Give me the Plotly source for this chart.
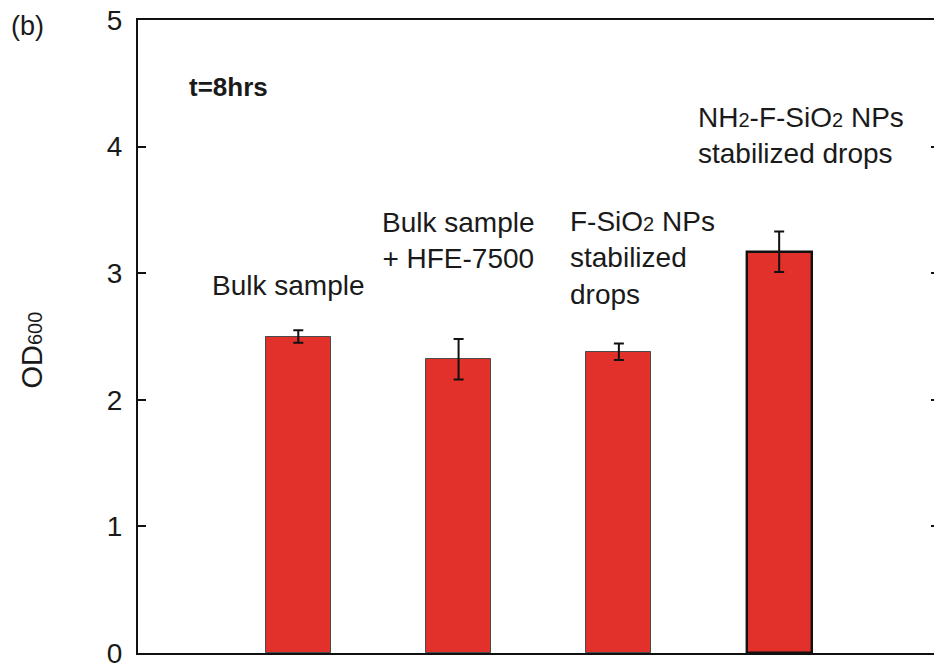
import plotly.graph_objects as go

# OD600 after 8 h of culture for each sample condition
positions = [1, 2, 3, 4]
od600 = [2.50, 2.32, 2.38, 3.17]
od600_err = [0.05, 0.16, 0.065, 0.16]
y_ticks = [0, 1, 2, 3, 4, 5]

FONT = "Liberation Sans, Arial, sans-serif"
TXT = "#1a1a1a"
SUB = '<span style="font-size:20px">{}</span>'

labels = [
    dict(text="Bulk sample", x=0.94, y=2.90, xanchor="center", align="center"),
    dict(text="Bulk sample<br>+ HFE-7500", x=2.0, y=3.26, xanchor="center", align="center"),
    dict(text="F-SiO" + SUB.format("2") + " NPs<br>stabilized<br>drops",
         x=2.68, y=3.12, xanchor="left", align="left"),
    dict(text="NH" + SUB.format("2") + "-F-SiO" + SUB.format("2") + " NPs<br>stabilized drops",
         x=3.48, y=4.09, xanchor="left", align="left"),
]

fig = go.Figure()
fig.add_trace(go.Bar(
    x=positions,
    y=od600,
    width=0.405,
    marker=dict(
        color="#e2302a",
        line=dict(color=["#4a4a4a", "#4a4a4a", "#4a4a4a", "#111111"],
                  width=[1, 1, 1, 2.4]),
    ),
    error_y=dict(type="data", array=od600_err, visible=True,
                 color="#111111", thickness=2, width=5),
    showlegend=False,
))
# carrier trace so the right-hand tick axis is drawn
fig.add_trace(go.Scatter(x=[None], y=[None], yaxis="y2",
                         showlegend=False, hoverinfo="skip"))

annotations = []
for lab in labels:
    annotations.append(dict(
        xref="x", yref="y", showarrow=False, yanchor="middle",
        font=dict(family=FONT, size=28, color=TXT), **lab,
    ))
annotations.append(dict(
    text="<b>t=8hrs</b>", xref="x", yref="y", x=0.566, y=4.47,
    xanchor="center", yanchor="middle", showarrow=False,
    font=dict(family=FONT, size=26, color=TXT),
))
annotations.append(dict(
    text="OD" + SUB.format("600"), xref="paper", yref="paper",
    x=-0.133, y=0.478, textangle=-90, showarrow=False,
    xanchor="center", yanchor="middle",
    font=dict(family=FONT, size=29, color=TXT),
))
annotations.append(dict(
    text="(b)", xref="paper", yref="paper", x=-0.139, y=0.99,
    showarrow=False, xanchor="center", yanchor="middle",
    font=dict(family=FONT, size=27, color=TXT),
))

fig.update_layout(
    width=934, height=668,
    margin=dict(l=138, r=0, t=20, b=15),
    paper_bgcolor="white", plot_bgcolor="white",
    font=dict(family=FONT, color=TXT),
    xaxis=dict(
        range=[0, 4.966], showgrid=False, zeroline=False,
        showticklabels=False, ticks="",
        showline=True, linecolor="#111111", linewidth=2, mirror=True,
    ),
    yaxis=dict(
        range=[0, 5], tickvals=y_ticks, showgrid=False, zeroline=False,
        ticks="inside", ticklen=8, tickwidth=2, tickcolor="#111111",
        showline=True, linecolor="#111111", linewidth=2,
        tickfont=dict(family=FONT, size=28, color=TXT),
        ticklabelstandoff=8, ticklabeloverflow="allow",
    ),
    yaxis2=dict(
        range=[0, 5], tickvals=y_ticks[1:5], overlaying="y", side="right",
        showgrid=False, zeroline=False, showline=False,
        ticks="inside", ticklen=3, tickwidth=2, tickcolor="#111111",
        showticklabels=False,
    ),
    annotations=annotations,
    bargap=0,
)

fig.write_html("out.html")
